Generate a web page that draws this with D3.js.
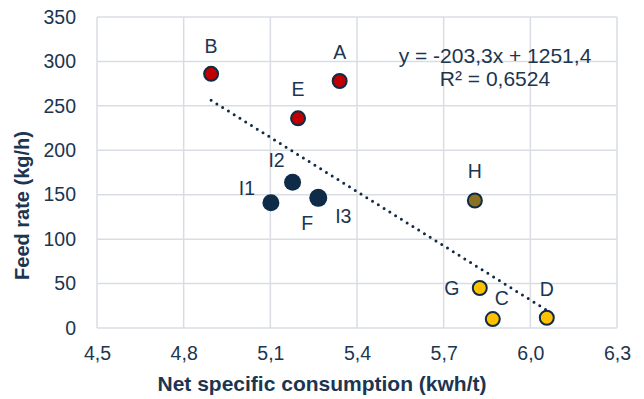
<!DOCTYPE html>
<html>
<head>
<meta charset="utf-8">
<script src="https://cdn.jsdelivr.net/npm/d3@7"></script>
<style>
  html, body { margin: 0; padding: 0; background: #fff; }
  svg { display: block; font-family: "Liberation Sans", Arial, sans-serif; }
</style>
</head>
<body>
<svg id="chart" width="644" height="399"></svg>
<script>
// Measured plants: consumption (kWh/t) vs feed rate (kg/h)
const labels      = ["A", "B", "C", "D", "E", "F", "G", "H", "I1", "I2", "I3"];
const consumption = [5.34, 4.895, 5.87, 6.057, 5.196, 5.266, 5.825, 5.808, 5.102, 5.177, 5.266];
const feedRate    = [278, 286, 10, 11.5, 236, 146.5, 45, 143.5, 141, 164, 146.5];
const groups      = ["red", "red", "yellow", "yellow", "red", "navy", "yellow", "olive", "navy", "navy", "navy"];

// Linear trend (Excel-style) shown in the annotation
const slope = -203.3, intercept = 1251.4, rSquared = 0.6524;

const xTicks = [4.5, 4.8, 5.1, 5.4, 5.7, 6.0, 6.3];
const yTicks = [0, 50, 100, 150, 200, 250, 300, 350];

const fills = { red: "#c00000", yellow: "#ffc000", olive: "#8b7122", navy: "#0e2b47" };
const textColor = "#1c3550";
const gridColor = "#d9dde3";
const fontSize = "19.5px";

const svg = d3.select("#chart");
const m = { left: 97, right: 27, top: 17, bottom: 71 };
const W = 644, H = 399;

const x = d3.scaleLinear().domain([4.5, 6.3]).range([m.left, W - m.right]);
const y = d3.scaleLinear().domain([0, 350]).range([H - m.bottom, m.top]);
const comma = v => v.toFixed(1).replace(".", ",");

// gridlines
svg.append("g").selectAll("line").data(xTicks).join("line")
  .attr("x1", d => x(d)).attr("x2", d => x(d))
  .attr("y1", y(0)).attr("y2", y(350))
  .attr("stroke", gridColor).attr("stroke-width", 1.5);
svg.append("g").selectAll("line").data(yTicks).join("line")
  .attr("x1", x(4.5)).attr("x2", x(6.3))
  .attr("y1", d => y(d)).attr("y2", d => y(d))
  .attr("stroke", gridColor).attr("stroke-width", 1.5);

// axes (labels only)
const xAxis = svg.append("g").attr("transform", `translate(0,${y(0)})`)
  .call(d3.axisBottom(x).tickValues(xTicks).tickFormat(comma).tickSize(0).tickPadding(18));
const yAxis = svg.append("g").attr("transform", `translate(${x(4.5)},0)`)
  .call(d3.axisLeft(y).tickValues(yTicks).tickFormat(d3.format("d")).tickSize(0).tickPadding(21));
[xAxis, yAxis].forEach(a => {
  a.select(".domain").remove();
  a.selectAll("text").attr("fill", textColor)
    .style("font-size", fontSize).style("font-family", "Liberation Sans, Arial, sans-serif");
});

// trendline across the data range
const xMin = d3.min(consumption), xMax = d3.max(consumption);
svg.append("line")
  .attr("x1", x(xMin)).attr("y1", y(slope * xMin + intercept))
  .attr("x2", x(xMax)).attr("y2", y(slope * xMax + intercept))
  .attr("stroke", "#0e2b47").attr("stroke-width", 3)
  .attr("stroke-linecap", "round").attr("stroke-dasharray", "0 6.8");

// points
const pts = labels.map((l, i) => ({ l, x: consumption[i], y: feedRate[i], g: groups[i] }));
const radius = { navy: 8.5, red: 7, yellow: 7, olive: 7 };
svg.append("g").selectAll("circle").data(pts).join("circle")
  .attr("cx", d => x(d.x)).attr("cy", d => y(d.y))
  .attr("r", d => d.l === "F" ? 9 : radius[d.g])
  .attr("fill", d => fills[d.g])
  .attr("stroke", d => d.g === "navy" ? "none" : "#0e2b47")
  .attr("stroke-width", 2);

// point labels (offsets in px)
const labelOffsets = {
  A: [0, -29], B: [0, -28], C: [9, -21], D: [0, -29], E: [0, -29],
  F: [-11, 25], G: [-28, 0], H: [0, -29], I1: [-24, -15], I2: [-16, -22], I3: [25, 18]
};
svg.append("g").selectAll("text").data(pts).join("text")
  .attr("x", d => x(d.x) + labelOffsets[d.l][0])
  .attr("y", d => y(d.y) + labelOffsets[d.l][1])
  .attr("text-anchor", "middle").attr("dominant-baseline", "central")
  .attr("fill", textColor).style("font-size", fontSize)
  .text(d => d.l);

// trend equation
const eq = svg.append("g").attr("fill", textColor).style("font-size", "21px").attr("text-anchor", "middle");
eq.append("text").attr("x", 495).attr("y", 63)
  .text(`y = ${comma(slope)}x + ${comma(intercept)}`);
eq.append("text").attr("x", 495).attr("y", 86)
  .text(`R² = ${rSquared.toFixed(4).replace(".", ",")}`);

// axis titles
svg.append("text").attr("x", 322).attr("y", 391).attr("text-anchor", "middle")
  .attr("fill", textColor).style("font-size", "21px").style("font-weight", "bold")
  .text("Net specific consumption (kwh/t)");
svg.append("text").attr("transform", `translate(29,${(y(0) + y(350)) / 2 + 33}) rotate(-90)`)
  .attr("text-anchor", "middle")
  .attr("fill", textColor).style("font-size", "20px").style("font-weight", "bold")
  .text("Feed rate (kg/h)");
</script>
</body>
</html>
